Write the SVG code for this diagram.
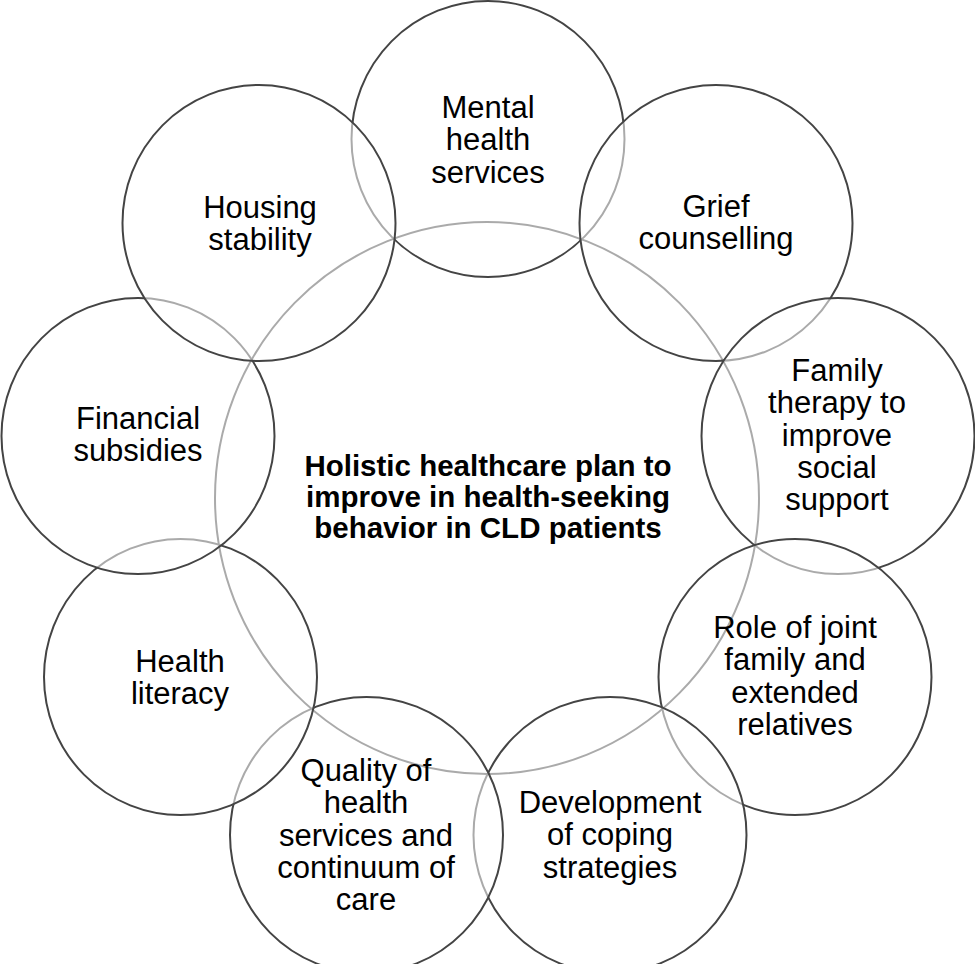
<svg xmlns="http://www.w3.org/2000/svg" width="975" height="964" viewBox="0 0 975 964">
<style>
  .hub { fill: #ffffff; stroke: #444444; stroke-width: 2; }
  .ring { fill: #ffffff; fill-opacity: 0.55; stroke: #444444; stroke-width: 2; }
  .lbl { font-family: "Liberation Sans", Arial, sans-serif; font-size: 31px; fill: #000000; text-anchor: middle; }
  .hubtxt { font-family: "Liberation Sans", Arial, sans-serif; font-size: 29.5px; font-weight: bold; fill: #000000; text-anchor: middle; }
</style>
<rect x="0" y="0" width="975" height="964" fill="#ffffff"/>
<g id="connectors"></g>
<g id="hub">
  <ellipse class="hub" cx="487" cy="498" rx="272" ry="276"/>
  <text class="hubtxt" x="488" y="476">Holistic healthcare plan to</text>
  <text class="hubtxt" x="488" y="507">improve in health-seeking</text>
  <text class="hubtxt" x="488" y="538">behavior in CLD patients</text>
</g>
<g id="mental">
  <ellipse class="ring" cx="488" cy="139" rx="136.5" ry="138"/>
  <text class="lbl" x="488" y="118">Mental</text>
  <text class="lbl" x="488" y="150.25">health</text>
  <text class="lbl" x="488" y="182.5">services</text>
</g>
<g id="grief">
  <ellipse class="ring" cx="716" cy="223" rx="136.5" ry="138"/>
  <text class="lbl" x="716" y="217">Grief</text>
  <text class="lbl" x="716" y="249.25">counselling</text>
</g>
<g id="family">
  <ellipse class="ring" cx="838" cy="436" rx="136.5" ry="138"/>
  <text class="lbl" x="837" y="381">Family</text>
  <text class="lbl" x="837" y="413.25">therapy to</text>
  <text class="lbl" x="837" y="445.5">improve</text>
  <text class="lbl" x="837" y="477.75">social</text>
  <text class="lbl" x="837" y="510">support</text>
</g>
<g id="role">
  <ellipse class="ring" cx="795" cy="677" rx="136.5" ry="138"/>
  <text class="lbl" x="795" y="638">Role of joint</text>
  <text class="lbl" x="795" y="670.25">family and</text>
  <text class="lbl" x="795" y="702.5">extended</text>
  <text class="lbl" x="795" y="734.75">relatives</text>
</g>
<g id="development">
  <ellipse class="ring" cx="610" cy="835" rx="136.5" ry="138"/>
  <text class="lbl" x="610" y="813">Development</text>
  <text class="lbl" x="610" y="845.25">of coping</text>
  <text class="lbl" x="610" y="877.5">strategies</text>
</g>
<g id="quality">
  <ellipse class="ring" cx="366.5" cy="835" rx="136.5" ry="138"/>
  <text class="lbl" x="366" y="781">Quality of</text>
  <text class="lbl" x="366" y="813.25">health</text>
  <text class="lbl" x="366" y="845.5">services and</text>
  <text class="lbl" x="366" y="877.75">continuum of</text>
  <text class="lbl" x="366" y="910">care</text>
</g>
<g id="health-literacy">
  <ellipse class="ring" cx="180.5" cy="677" rx="136.5" ry="138"/>
  <text class="lbl" x="180" y="672">Health</text>
  <text class="lbl" x="180" y="704.25">literacy</text>
</g>
<g id="financial">
  <ellipse class="ring" cx="138" cy="436" rx="136.5" ry="138"/>
  <text class="lbl" x="138" y="429">Financial</text>
  <text class="lbl" x="138" y="461.25">subsidies</text>
</g>
<g id="housing">
  <ellipse class="ring" cx="259" cy="223" rx="136.5" ry="138"/>
  <text class="lbl" x="260" y="218">Housing</text>
  <text class="lbl" x="260" y="250.25">stability</text>
</g>
</svg>
